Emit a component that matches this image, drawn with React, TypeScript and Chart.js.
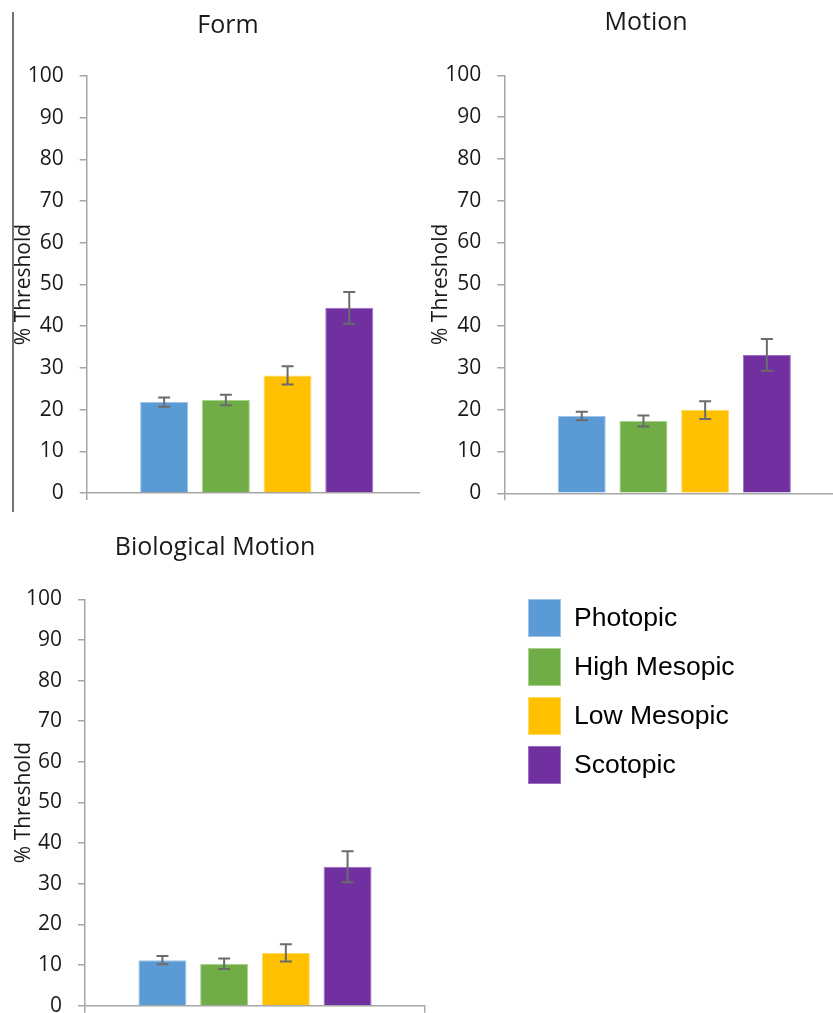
import React, { useEffect, useRef } from 'react';
import { Chart, registerables } from 'chart.js';

Chart.register(...registerables);

// ---------- data ----------
const conditions = ['Photopic', 'High Mesopic', 'Low Mesopic', 'Scotopic'];
const barColors = ['#5B9BD5', '#70AD47', '#FFC000', '#7030A0'];
const barEdgeColors = ['#9DC3E6', '#A9D18E', '#FFD966', '#9B6FC2'];

const formMeans = [21.8, 22.3, 28.2, 44.4];
const formErrors = [1.1, 1.25, 2.2, 3.8];

const motionMeans = [18.5, 17.3, 19.9, 33.1];
const motionErrors = [1.0, 1.3, 2.1, 3.8];

const bioMeans = [11.2, 10.3, 13.0, 34.2];
const bioErrors = [1.0, 1.3, 2.1, 3.8];

const panelTitles = ['Form', 'Motion', 'Biological Motion'];
const axisTitle = '% Threshold';
const yMin = 0;
const yMax = 100;
const yStep = 10;

// ---------- styles ----------
const AXIS_COLOR = '#A6A6A6';
const TEXT_COLOR = '#1a1a1a';
const ERR_COLOR = '#6b6b6b';
const SANS = '"Open Sans", "DejaVu Sans", sans-serif';
const LEGEND_FONT = '"Liberation Sans", Arial, sans-serif';
const X_AXIS_H = 7;

type PanelSpec = {
  title: string;
  means: number[];
  errors: number[];
  left: number;
  top: number;
  wrapW: number;
  wrapH: number;
  canvasW: number;
  canvasH: number;
  yAxisW: number;
  pad: { top: number; bottom: number; right: number };
  titleX: number;
  titleY: number;
  axisTitlePad: number;
  frame?: boolean;
  legend?: boolean;
};

const panels: PanelSpec[] = [
  {
    title: panelTitles[0], means: formMeans, errors: formErrors,
    left: 0, top: 0, wrapW: 420, wrapH: 515, canvasW: 432, canvasH: 540,
    yAxisW: 86.7, pad: { top: 76, bottom: 40, right: 5.3 },
    titleX: 228, titleY: 26, axisTitlePad: 11, frame: true,
  },
  {
    title: panelTitles[1], means: motionMeans, errors: motionErrors,
    left: 420, top: 0, wrapW: 413, wrapH: 515, canvasW: 432, canvasH: 540,
    yAxisW: 84.3, pad: { top: 75.3, bottom: 39.7, right: 7.7 },
    titleX: 226, titleY: 23, axisTitlePad: 8,
  },
  {
    title: panelTitles[2], means: bioMeans, errors: bioErrors,
    left: 0, top: 515, wrapW: 833, wrapH: 498, canvasW: 833, canvasH: 540,
    yAxisW: 85, pad: { top: 84.3, bottom: 42.3, right: 408 },
    titleX: 215, titleY: 33, axisTitlePad: 11, legend: true,
  },
];

function makePlugins(spec: PanelSpec) {
  const errorBars = {
    id: 'errorBars',
    afterDatasetsDraw(chart: any) {
      const ctx = chart.ctx;
      const yScale = chart.scales.y;
      ctx.save();
      ctx.strokeStyle = ERR_COLOR;
      ctx.lineWidth = 2;
      chart.data.datasets.forEach((ds: any, i: number) => {
        const meta = chart.getDatasetMeta(i);
        const bar = meta.data[0];
        if (!bar) return;
        const v = ds.data[0];
        const e = ds.err;
        const x = bar.x;
        const yT = yScale.getPixelForValue(v + e);
        const yB = yScale.getPixelForValue(v - e);
        const cap = 6;
        ctx.beginPath();
        ctx.moveTo(x, yT);
        ctx.lineTo(x, yB);
        ctx.moveTo(x - cap, yT);
        ctx.lineTo(x + cap, yT);
        ctx.moveTo(x - cap, yB);
        ctx.lineTo(x + cap, yB);
        ctx.stroke();
      });
      ctx.restore();
    },
  };

  const panelTitle = {
    id: 'panelTitle',
    afterDraw(chart: any) {
      const ctx = chart.ctx;
      ctx.save();
      ctx.font = `25px ${SANS}`;
      ctx.fillStyle = TEXT_COLOR;
      ctx.textAlign = 'center';
      ctx.textBaseline = 'middle';
      ctx.fillText(spec.title, spec.titleX, spec.titleY);
      if (spec.frame) {
        ctx.strokeStyle = '#444';
        ctx.lineWidth = 1.5;
        ctx.beginPath();
        ctx.moveTo(13, 12);
        ctx.lineTo(13, 512);
        ctx.stroke();
      }
      ctx.restore();
    },
  };

  const legendBox = {
    id: 'legendBox',
    afterDraw(chart: any) {
      if (!spec.legend) return;
      const ctx = chart.ctx;
      ctx.save();
      ctx.font = `26.5px ${LEGEND_FONT}`;
      ctx.textAlign = 'left';
      ctx.textBaseline = 'middle';
      chart.data.datasets.forEach((ds: any, i: number) => {
        const cy = 103 + i * 49;
        ctx.fillStyle = ds.backgroundColor;
        ctx.fillRect(528, cy - 19, 33, 38);
        ctx.strokeStyle = ds.borderColor;
        ctx.lineWidth = 1;
        ctx.strokeRect(528.5, cy - 18.5, 32, 37);
        ctx.fillStyle = '#000';
        ctx.fillText(ds.label, 574, cy + 1);
      });
      ctx.restore();
    },
  };

  return [errorBars, panelTitle, legendBox];
}

function Panel({ spec }: { spec: PanelSpec }) {
  const ref = useRef<HTMLCanvasElement>(null);
  useEffect(() => {
    const canvas = ref.current;
    if (!canvas) return;
    const chart = new Chart(canvas, {
      type: 'bar',
      data: {
        labels: [''],
        datasets: conditions.map((c, i) => ({
          label: c,
          data: [spec.means[i]],
          err: spec.errors[i],
          backgroundColor: barColors[i],
          borderColor: barEdgeColors[i],
          borderWidth: 1,
          categoryPercentage: 0.726,
          barPercentage: 0.778,
        })) as any,
      },
      options: {
        responsive: false,
        animation: false,
        events: [],
        layout: { padding: { top: spec.pad.top, bottom: spec.pad.bottom, left: 0, right: spec.pad.right } },
        plugins: {
          legend: { display: false },
          tooltip: { enabled: false },
          title: { display: false },
        },
        scales: {
          x: {
            type: 'category',
            offset: true,
            afterFit: (scale: any) => { scale.height = X_AXIS_H; },
            ticks: { display: false },
            grid: {
              display: true,
              offset: true,
              drawOnChartArea: false,
              drawTicks: true,
              tickLength: 7,
              color: AXIS_COLOR,
              lineWidth: 1.5,
            },
            border: { display: true, color: AXIS_COLOR, width: 1.5 },
          },
          y: {
            min: yMin,
            max: yMax,
            afterFit: (scale: any) => { scale.width = spec.yAxisW; },
            ticks: {
              stepSize: yStep,
              padding: 16,
              color: TEXT_COLOR,
              font: { family: SANS, size: 21 },
              autoSkip: false,
            },
            grid: {
              drawOnChartArea: false,
              drawTicks: true,
              tickLength: 7,
              color: AXIS_COLOR,
              lineWidth: 1.5,
            },
            border: { display: true, color: AXIS_COLOR, width: 1.5 },
            title: {
              display: true,
              text: axisTitle,
              color: TEXT_COLOR,
              font: { family: SANS, size: 21 },
              padding: { top: spec.axisTitlePad, bottom: 0 },
            },
          },
        },
      } as any,
      plugins: makePlugins(spec) as any,
    });
    return () => chart.destroy();
  }, [spec]);

  return (
    <div
      style={{
        position: 'absolute',
        left: spec.left,
        top: spec.top,
        width: spec.wrapW,
        height: spec.wrapH,
        overflow: 'hidden',
      }}
    >
      <canvas ref={ref} width={spec.canvasW} height={spec.canvasH} style={{ display: 'block' }} />
    </div>
  );
}

export default function App() {
  return (
    <div
      style={{
        position: 'absolute',
        left: 0,
        top: 0,
        width: 833,
        height: 1013,
        overflow: 'hidden',
        background: '#fff',
      }}
    >
      {panels.map((p, i) => (
        <Panel key={i} spec={p} />
      ))}
    </div>
  );
}
